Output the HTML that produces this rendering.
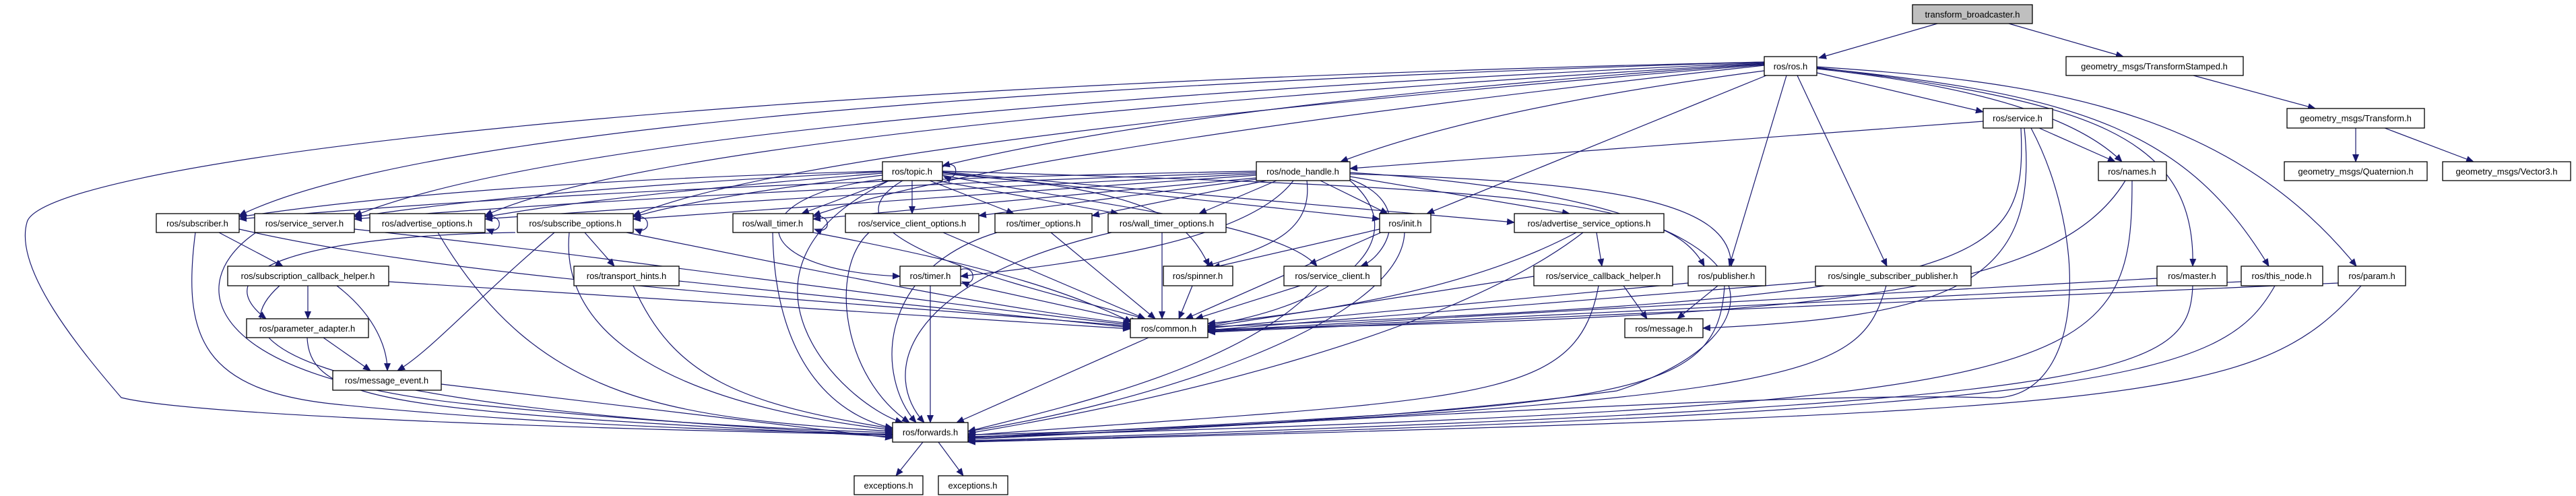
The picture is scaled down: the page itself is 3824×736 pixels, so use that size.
<!DOCTYPE html>
<html><head><meta charset="utf-8"><style>html,body{margin:0;padding:0;background:#fff}svg{display:block}</style></head><body>
<svg width="3824" height="736" viewBox="0 0 3824 736" xmlns="http://www.w3.org/2000/svg">
<defs><marker id="a" markerWidth="12" markerHeight="10" refX="11" refY="5" orient="auto" markerUnits="userSpaceOnUse"><path d="M0,0 L12,5 L0,10 z" fill="#191970"/></marker></defs>
<g fill="none" stroke="#191970" stroke-width="1.2" marker-end="url(#a)">
<path d="M2876,35 L2700,86"/><path d="M2982,35 L3152,84"/><path d="M3256,112 L3437,161"/><path d="M3497,190 L3497,240"/><path d="M3540,190 L3672,240"/>
<path d="M2619,95 Q1800,150 1399,246"/><path d="M2619,105 Q2200,160 1990,240"/>
<path d="M2619,92 Q700,150 355,320"/><path d="M2619,93 Q900,170 526,320"/><path d="M2619,94 Q1000,190 720,320"/><path d="M2619,96 Q1200,210 940,320"/><path d="M2619,97 Q1500,220 1207,320"/>
<path d="M2622,112 L2118,317"/><path d="M2652,112 L2567,395"/><path d="M2668,112 L2801,395"/><path d="M2697,108 L2944,166"/><path d="M2697,102 Q3050,140 3150,240"/>
<path d="M2697,100 C3100,150 3260,200 3255,395"/><path d="M2697,101 C3100,140 3250,200 3368,395"/><path d="M2697,99 C3000,120 3300,150 3498,395"/>
<path d="M2619,92 C900,130 60,250 40,330 C20,400 120,520 180,590 C300,620 1000,640 1325,645"/>
<path d="M2944,180 L2004,250"/><path d="M3027,190 L3140,240"/><path d="M3000,190 C3010,400 2950,440 1793,485"/><path d="M3005,190 C3030,420 2900,470 2528,487"/><path d="M3015,190 C3100,350 3100,600 2950,590 C2600,580 1800,640 1437,645"/>
<path d="M3155,268 C3050,440 2700,470 1793,489"/><path d="M3165,268 C3165,560 3100,600 1437,648"/>
<path d="M1354,268 L1354,317"/><path d="M1380,268 L1505,317"/><path d="M1390,268 L1660,317"/>
<path d="M1310,254 Q700,270 355,322"/><path d="M1310,255 Q800,280 526,322"/><path d="M1310,257 Q900,290 720,322"/><path d="M1310,260 Q1050,290 940,322"/><path d="M1320,268 L1190,317"/>
<path d="M1310,266 C1100,290 1100,400 1336,410"/><path d="M1399,258 C1700,280 1760,320 1795,395"/><path d="M1399,260 C1600,300 1900,330 1955,395"/>
<path d="M1399,256 L2048,325"/><path d="M1399,255 L2248,330"/><path d="M1399,254 C2300,280 2480,300 2530,395"/>
<path d="M1340,268 C1200,350 1500,420 1700,473"/><path d="M1320,268 C1050,400 1250,600 1340,627"/>
<path d="M1865,254 Q1000,270 355,325"/><path d="M1865,256 Q1100,280 526,325"/><path d="M1865,258 Q1200,290 720,325"/><path d="M1865,260 Q1300,300 940,325"/><path d="M1865,264 L1207,325"/>
<path d="M1865,266 L1453,320"/><path d="M1880,268 L1621,320"/><path d="M1895,268 L1780,317"/><path d="M1920,268 C1850,360 1600,390 1426,410"/><path d="M1960,268 L2060,317"/>
<path d="M1940,268 C1950,350 1870,370 1790,395"/><path d="M2004,266 C2100,300 2060,380 2020,395"/><path d="M2004,262 L2330,317"/><path d="M2004,258 C2400,270 2570,300 2570,395"/>
<path d="M2004,268 C2100,350 2000,450 1793,483"/><path d="M2004,256 C2700,300 2650,500 2400,580 C2100,620 1700,640 1437,650"/>
<path d="M2048,340 L1800,397"/><path d="M2050,345 L1760,473"/><path d="M2085,345 C2080,480 1700,600 1437,640"/>
<path d="M2370,345 L2378,395"/><path d="M2340,345 C2200,420 2000,460 1793,480"/><path d="M2350,345 C2150,500 1700,600 1437,643"/>
<path d="M2410,424 L2445,473"/><path d="M2277,410 L1793,485"/><path d="M2373,424 C2340,600 2200,590 1437,646"/>
<path d="M2550,424 L2490,473"/><path d="M2506,420 L1793,487"/><path d="M2560,424 C2550,600 2400,600 1437,649"/>
<path d="M2695,418 L1793,490"/><path d="M2800,424 C2760,560 2700,590 1437,652"/>
<path d="M3202,413 L1793,491"/><path d="M3255,424 C3250,560 3150,600 1437,654"/>
<path d="M3327,418 L1793,492"/><path d="M3377,424 C3300,560 3150,610 1437,655"/>
<path d="M3471,420 L1793,493"/><path d="M3505,424 C3350,600 3200,610 1437,656"/>
<path d="M1770,424 L1750,473"/><path d="M1930,424 L1775,473"/><path d="M1955,424 C1850,540 1600,600 1437,640"/>
<path d="M1426,420 L1690,478"/><path d="M1381,424 L1381,627"/>
<path d="M1400,345 L1700,473"/><path d="M1290,345 C1230,400 1250,560 1350,627"/>
<path d="M1560,345 L1715,473"/><path d="M1480,345 C1300,400 1300,560 1360,627"/>
<path d="M1725,345 L1725,473"/><path d="M1650,345 C1330,420 1310,560 1372,627"/>
<path d="M1207,345 C1500,400 1600,440 1680,478"/><path d="M1147,345 C1150,550 1250,620 1325,635"/>
<path d="M868,345 L912,395"/><path d="M823,345 C700,450 640,520 590,550"/><path d="M930,345 C1300,420 1500,460 1678,480"/><path d="M845,345 C830,500 1000,600 1325,638"/><path d="M765,345 C450,350 300,400 395,473"/>
<path d="M650,345 C800,600 1000,620 1325,640"/>
<path d="M526,340 C900,380 1300,440 1678,482"/><path d="M380,345 C270,420 300,560 700,600 C900,620 1100,635 1325,642"/>
<path d="M325,345 L420,395"/><path d="M355,340 C700,420 1300,450 1678,484"/><path d="M290,345 C270,500 300,580 500,600 C800,630 1100,640 1325,644"/>
<path d="M1008,417 L1678,486"/><path d="M940,424 C1000,560 1100,600 1325,636"/>
<path d="M457,424 L457,473"/><path d="M500,424 C560,470 575,520 575,550"/><path d="M577,418 L1678,488"/><path d="M415,424 C330,500 380,600 1325,646"/>
<path d="M480,501 L550,550"/><path d="M456,501 C460,600 600,610 1325,648"/><path d="M655,570 L1325,650"/>
<path d="M1705,501 L1420,627"/><path d="M1370,656 L1330,706"/><path d="M1393,656 L1430,706"/>
<path d="M1399,248 C1425,232 1425,272 1401,262"/><path d="M720,322 C748,315 748,350 722,340"/><path d="M940,322 C968,315 968,350 942,340"/><path d="M1207,322 C1235,315 1235,350 1209,340"/><path d="M1426,400 C1450,392 1450,428 1428,418"/>
</g>
<g font-family="Liberation Sans, sans-serif" font-size="13" text-anchor="middle" fill="#000">
<g stroke="#000" stroke-width="1.3" fill="#fff">
<rect x="2839" y="7" width="178" height="28" fill="#bfbfbf"/>
<rect x="2619" y="84" width="78" height="28"/><rect x="3067" y="84" width="263" height="28"/>
<rect x="2944" y="161" width="103" height="29"/><rect x="3395" y="161" width="204" height="29"/>
<rect x="1310" y="240" width="89" height="28"/><rect x="1865" y="240" width="139" height="28"/><rect x="3115" y="240" width="101" height="28"/><rect x="3391" y="240" width="212" height="28"/><rect x="3626" y="240" width="190" height="28"/>
<rect x="232" y="317" width="123" height="28"/><rect x="378" y="317" width="148" height="28"/><rect x="549" y="317" width="171" height="28"/><rect x="768" y="317" width="172" height="28"/><rect x="1088" y="317" width="119" height="28"/><rect x="1255" y="317" width="198" height="28"/><rect x="1477" y="317" width="144" height="28"/><rect x="1645" y="317" width="175" height="28"/><rect x="2048" y="317" width="76" height="28"/><rect x="2248" y="317" width="222" height="28"/>
<rect x="338" y="395" width="239" height="29"/><rect x="852" y="395" width="156" height="29"/><rect x="1336" y="395" width="90" height="29"/><rect x="1727" y="395" width="103" height="29"/><rect x="1906" y="395" width="144" height="29"/><rect x="2277" y="395" width="206" height="29"/><rect x="2506" y="395" width="115" height="29"/><rect x="2695" y="395" width="231" height="29"/><rect x="3202" y="395" width="104" height="29"/><rect x="3327" y="395" width="121" height="29"/><rect x="3471" y="395" width="100" height="29"/>
<rect x="366" y="473" width="181" height="28"/><rect x="1678" y="473" width="115" height="28"/><rect x="2412" y="473" width="116" height="28"/>
<rect x="494" y="550" width="161" height="29"/><rect x="1325" y="627" width="112" height="29"/><rect x="1268" y="706" width="102" height="28"/><rect x="1393" y="706" width="103" height="28"/>
</g>
<text x="2928" y="26">transform_broadcaster.h</text>
<text x="2658" y="103">ros/ros.h</text><text x="3198" y="103">geometry_msgs/TransformStamped.h</text>
<text x="2995" y="180">ros/service.h</text><text x="3497" y="180">geometry_msgs/Transform.h</text>
<text x="1354" y="259">ros/topic.h</text><text x="1934" y="259">ros/node_handle.h</text><text x="3165" y="259">ros/names.h</text><text x="3497" y="259">geometry_msgs/Quaternion.h</text><text x="3721" y="259">geometry_msgs/Vector3.h</text>
<text x="293" y="336">ros/subscriber.h</text><text x="452" y="336">ros/service_server.h</text><text x="634" y="336">ros/advertise_options.h</text><text x="854" y="336">ros/subscribe_options.h</text><text x="1147" y="336">ros/wall_timer.h</text><text x="1354" y="336">ros/service_client_options.h</text><text x="1549" y="336">ros/timer_options.h</text><text x="1732" y="336">ros/wall_timer_options.h</text><text x="2086" y="336">ros/init.h</text><text x="2359" y="336">ros/advertise_service_options.h</text>
<text x="457" y="414">ros/subscription_callback_helper.h</text><text x="930" y="414">ros/transport_hints.h</text><text x="1381" y="414">ros/timer.h</text><text x="1778" y="414">ros/spinner.h</text><text x="1978" y="414">ros/service_client.h</text><text x="2380" y="414">ros/service_callback_helper.h</text><text x="2563" y="414">ros/publisher.h</text><text x="2810" y="414">ros/single_subscriber_publisher.h</text><text x="3254" y="414">ros/master.h</text><text x="3387" y="414">ros/this_node.h</text><text x="3521" y="414">ros/param.h</text>
<text x="456" y="492">ros/parameter_adapter.h</text><text x="1735" y="492">ros/common.h</text><text x="2470" y="492">ros/message.h</text>
<text x="574" y="569">ros/message_event.h</text><text x="1381" y="646">ros/forwards.h</text><text x="1319" y="725">exceptions.h</text><text x="1444" y="725">exceptions.h</text>
</g>
</svg>
</body></html>
